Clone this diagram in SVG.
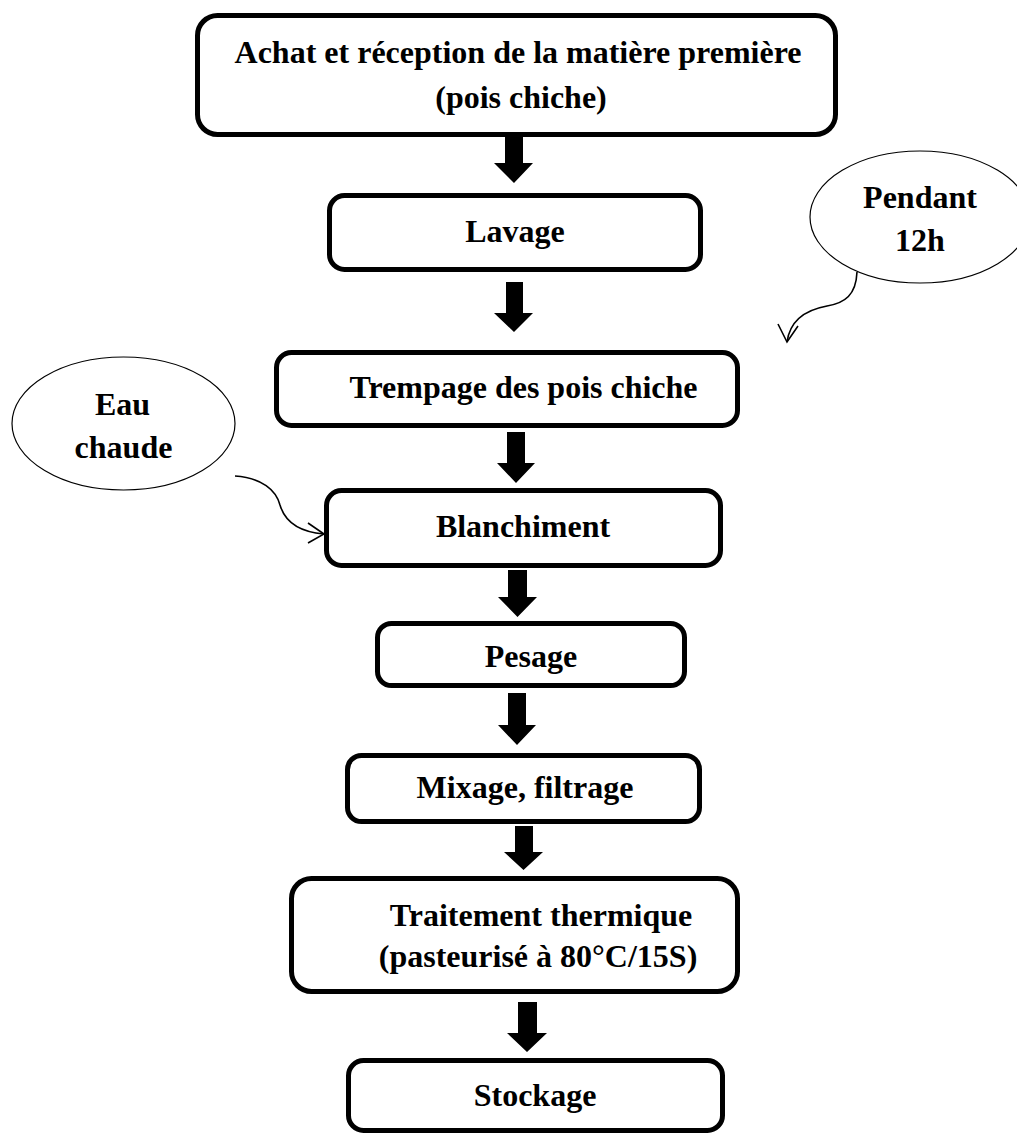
<svg xmlns="http://www.w3.org/2000/svg" width="1017" height="1138" viewBox="0 0 1017 1138">
<style>
.box{fill:#fff;stroke:#000;stroke-width:5}
.ell{fill:#fff;stroke:#000;stroke-width:1.2}
.t{font-family:"Liberation Serif","Times New Roman",serif;font-weight:bold;font-size:32px;fill:#000;text-anchor:middle}
.blk{fill:#000}
.cv{fill:none;stroke:#000;stroke-width:1.6}
</style>
<rect width="1017" height="1138" fill="#fff"/>
<g id="n1"><rect class="box" x="197.5" y="15.5" width="638" height="119" rx="20"/>
<text class="t" x="518" y="63">Achat et réception de la matière première</text>
<text class="t" x="521" y="108">(pois chiche)</text></g>
<g id="n2"><rect class="box" x="329.5" y="195.5" width="371" height="74" rx="15"/>
<text class="t" x="515" y="242">Lavage</text></g>
<g id="n3"><rect class="box" x="276.5" y="352.5" width="461" height="73" rx="15"/>
<text class="t" x="523.5" y="398">Trempage des pois chiche</text></g>
<g id="n4"><rect class="box" x="326.5" y="490.5" width="394" height="75" rx="15"/>
<text class="t" x="523" y="537">Blanchiment</text></g>
<g id="n5"><rect class="box" x="377.5" y="623.5" width="307" height="62" rx="14"/>
<text class="t" x="531" y="667">Pesage</text></g>
<g id="n6"><rect class="box" x="347.5" y="755.5" width="352" height="66" rx="14"/>
<text class="t" x="525" y="798">Mixage, filtrage</text></g>
<g id="n7"><rect class="box" x="291.5" y="878.5" width="446" height="113" rx="20"/>
<text class="t" x="541" y="926">Traitement thermique</text>
<text class="t" x="538" y="967">(pasteurisé à 80°C/15S)</text></g>
<g id="n8"><rect class="box" x="348.5" y="1060.5" width="374" height="70" rx="15"/>
<text class="t" x="535" y="1106">Stockage</text></g>
<g id="e1"><ellipse class="ell" cx="920" cy="217" rx="110" ry="66"/>
<text class="t" x="920" y="208">Pendant</text>
<text class="t" x="920" y="251">12h</text></g>
<g id="e2"><ellipse class="ell" cx="123.5" cy="423.5" rx="111.5" ry="66.5"/>
<text class="t" x="122.5" y="415">Eau</text>
<text class="t" x="123.5" y="458">chaude</text></g>
<g id="connectors">
<path class="blk" d="M505,137 H523 V163 H533 L514,183 L494,163 H505 Z"/>
<path class="blk" d="M506,282 H523 V313 H533 L514,332 L494,313 H506 Z"/>
<path class="blk" d="M507,432 H525 V463 H535 L516,483 L497,463 H507 Z"/>
<path class="blk" d="M508,570 H527 V597 H537 L517.5,617 L498,597 H508 Z"/>
<path class="blk" d="M508,693 H526 V725 H536 L517,745 L498,725 H508 Z"/>
<path class="blk" d="M515,826 H533 V852 H543 L523.5,870 L504,852 H515 Z"/>
<path class="blk" d="M518,1002 H537 V1033 H547 L527,1052 L507,1033 H518 Z"/>
<path class="cv" d="M857,272 C856,295 845,303 827,306 C805,310 790,320 787,342"/>
<path class="cv" d="M778,324 L787,342 L798,326"/>
<path class="cv" d="M235,476 C262,478 276,490 280,505 C285,522 300,532 324,534"/>
<path class="cv" d="M308,523 L324,534 L308,543"/>
</g>
</svg>
